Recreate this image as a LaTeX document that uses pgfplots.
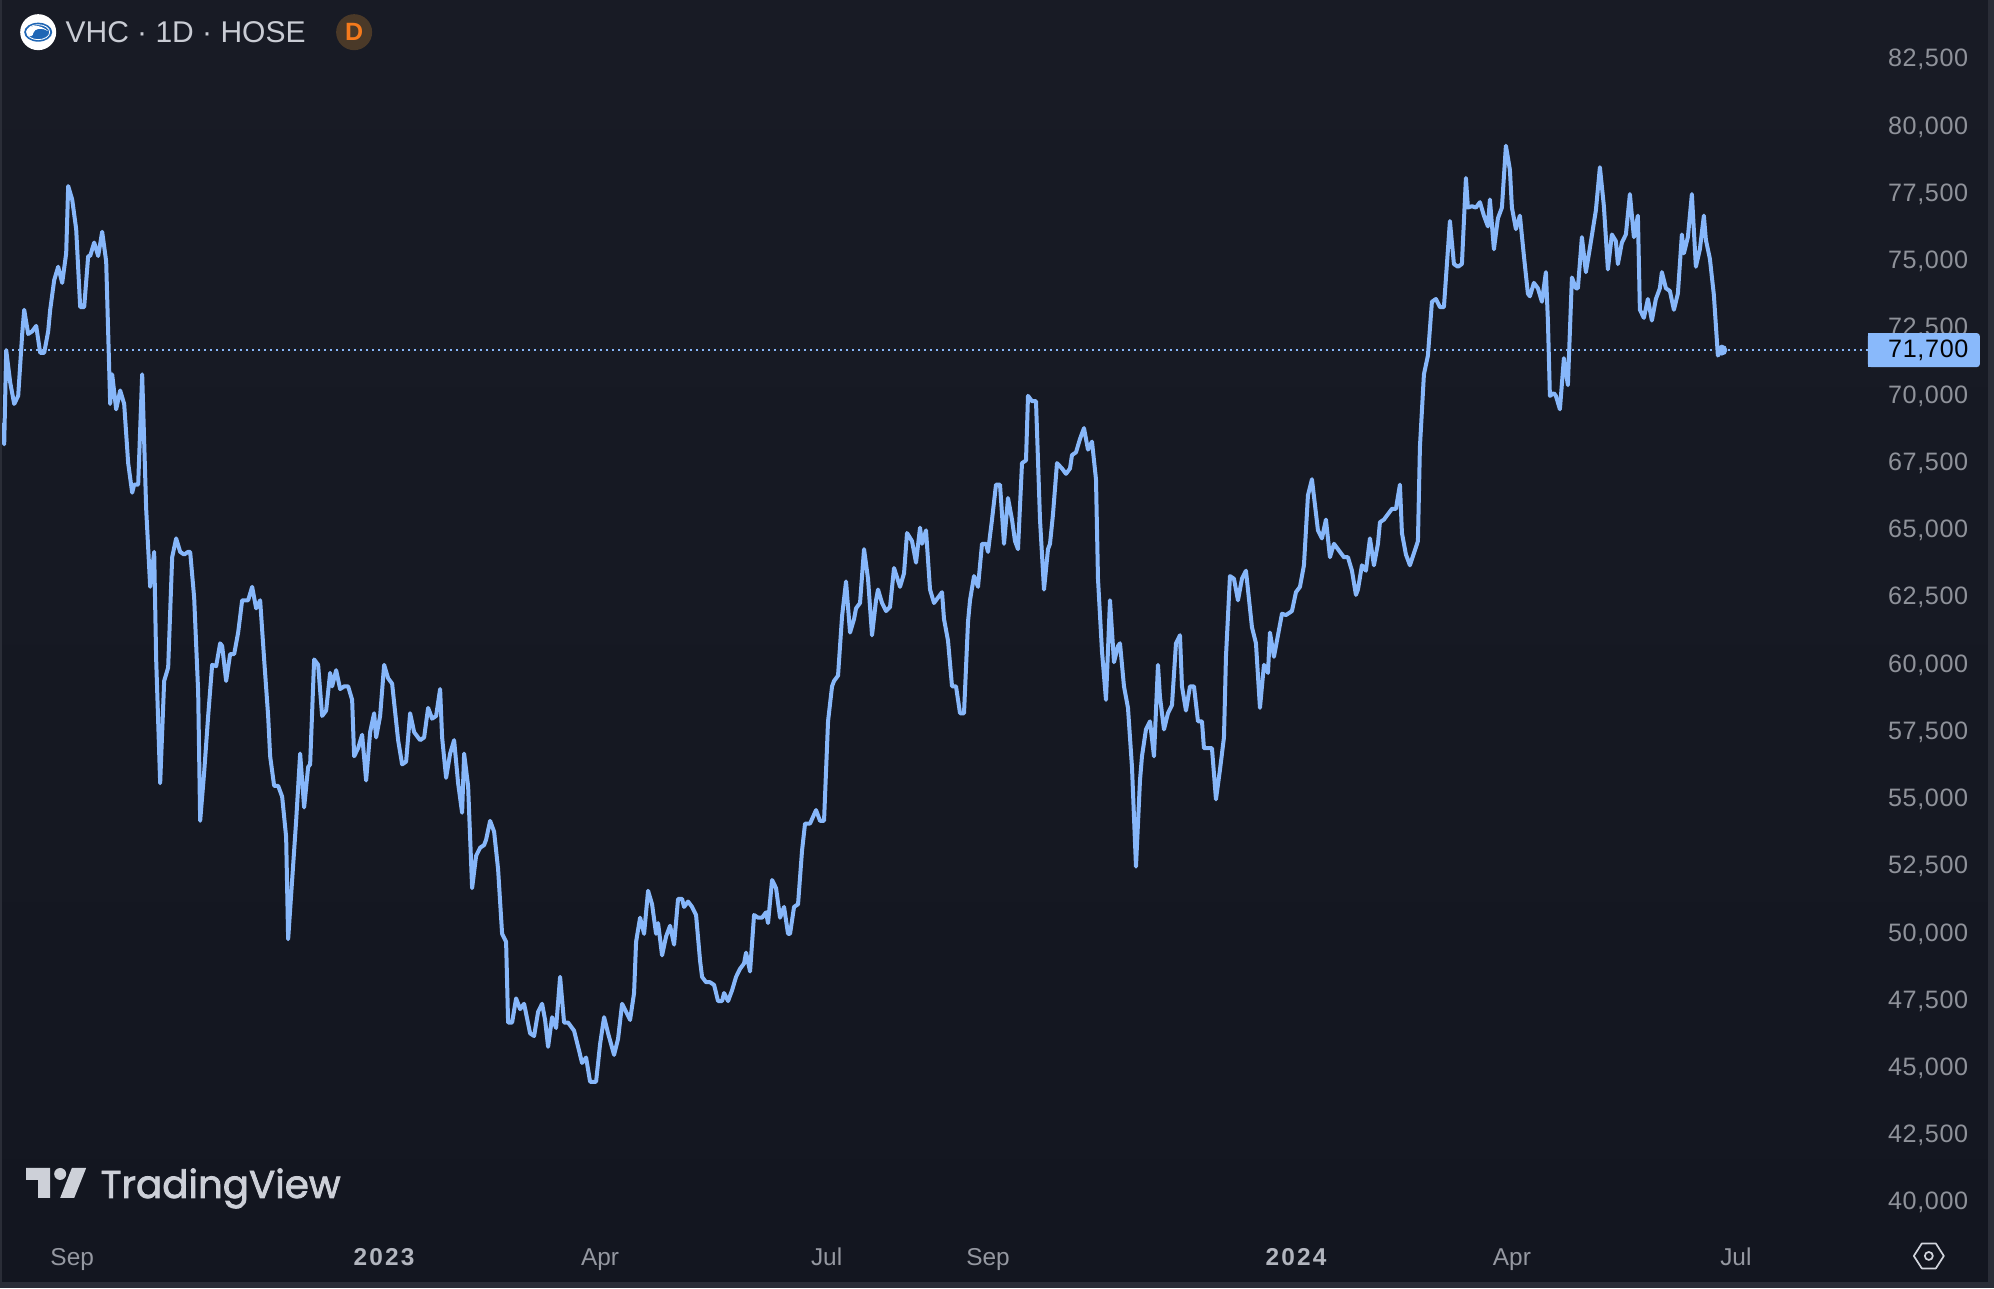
\documentclass[border=0pt]{standalone}
\usepackage{pgfplots}
\usepackage{pgfplotstable}
\usepackage{fontspec}
\pgfplotsset{compat=1.18}
\setmainfont{Liberation Sans}
\newfontfamily\tvfont{Poppins}[FakeBold=2]
\newfontfamily\tickfont{Liberation Sans}[LetterSpace=2.5]
\newfontfamily\yearfont{Liberation Sans}[LetterSpace=9]
\definecolor{bgtop}{HTML}{181B25}
\definecolor{bgbot}{HTML}{131620}
\definecolor{edge}{HTML}{2A2D37}
\definecolor{line}{HTML}{87B7FA}
\definecolor{tag}{HTML}{89B9FB}
\definecolor{ticktxt}{HTML}{8F929A}
\definecolor{xtxt}{HTML}{9598A1}
\definecolor{xbold}{HTML}{B2B5BE}
\definecolor{titletxt}{HTML}{C9CCD4}
\definecolor{logotxt}{HTML}{CDD0D8}
\definecolor{badge}{HTML}{4A3928}
\definecolor{badgetxt}{HTML}{F57A1C}
\definecolor{icon}{HTML}{D1D4DC}
\definecolor{swoosh}{HTML}{1F66B5}
\pgfplotstableread{
x y
3 69000
4 68200
6 71700
10 70500
14 69700
18 70000
22 72300
24 73200
28 72300
32 72400
36 72600
40 71600
44 71600
48 72400
50 73200
54 74300
58 74800
62 74200
66 75300
68 77800
72 77300
76 76200
80 73300
84 73300
88 75200
90 75200
94 75700
98 75200
102 76100
106 75000
110 69700
112 70800
116 69500
120 70200
124 69700
128 67500
132 66400
134 66700
138 66700
142 70800
146 65800
150 62900
154 64200
156 60200
160 55600
164 59400
168 59900
172 64000
176 64700
180 64200
184 64100
188 64200
190 64200
194 62500
198 59000
200 54200
204 56000
208 58100
212 60000
216 59950
220 60800
222 60700
226 59400
230 60400
234 60400
238 61200
242 62400
246 62400
248 62400
252 62900
256 62100
260 62400
264 60200
268 58100
270 56600
274 55500
278 55500
282 55100
286 53600
288 49800
292 52000
296 54200
300 56700
304 54700
308 56200
310 56300
314 60200
318 60000
322 58100
326 58300
330 59700
332 59200
336 59800
340 59100
344 59200
348 59200
352 58700
354 56600
358 56900
362 57400
366 55700
370 57500
374 58200
376 57300
380 58100
384 60000
388 59500
392 59300
398 57200
402 56300
406 56400
410 58200
414 57500
420 57200
424 57300
428 58400
432 58000
436 58100
440 59100
442 57300
446 55800
450 56700
454 57200
458 55600
462 54500
464 56700
468 55500
472 51700
476 52900
480 53200
484 53300
486 53500
490 54200
494 53800
498 52400
502 50000
506 49700
508 46700
512 46700
516 47600
520 47200
524 47400
530 46300
534 46200
538 47100
542 47400
545 46800
548 45800
552 46900
556 46500
560 48400
564 46700
568 46700
572 46500
574 46400
582 45200
586 45400
590 44500
596 44500
600 45900
604 46900
608 46300
614 45500
618 46100
622 47400
626 47100
630 46800
634 47800
636 49700
640 50600
644 50000
648 51600
652 51100
656 50000
658 50400
662 49200
666 49900
670 50300
674 49600
678 51300
682 51300
684 51000
688 51200
692 51000
696 50700
700 49000
702 48400
706 48200
710 48200
714 48100
718 47500
722 47500
724 47800
728 47500
732 47900
736 48400
740 48700
744 48900
746 49300
750 48600
754 50700
758 50600
762 50600
766 50800
768 50400
772 52000
776 51700
780 50600
784 51000
788 50000
790 50000
794 51000
798 51100
802 53100
805 54100
810 54100
816 54600
820 54200
824 54200
828 57900
832 59200
834 59400
838 59600
842 61800
846 63100
850 61200
854 61700
856 62100
860 62300
864 64300
868 63200
872 61100
876 62400
878 62800
882 62300
886 62000
890 62150
894 63600
900 62900
904 63400
907 64900
912 64600
916 63800
920 65100
922 64500
926 65000
930 62800
934 62300
942 62700
944 61700
948 60900
952 59200
956 59200
960 58200
964 58200
968 61600
970 62400
974 63300
978 62900
982 64500
986 64500
988 64200
992 65400
996 66700
1000 66700
1004 64500
1008 66200
1012 65400
1015 64600
1018 64300
1022 67500
1026 67600
1028 70000
1032 69800
1036 69800
1040 65400
1044 62800
1048 64300
1050 64500
1053 65600
1057 67500
1062 67300
1066 67100
1070 67300
1072 67800
1076 67900
1080 68400
1084 68800
1088 68000
1092 68300
1096 66900
1098 63200
1102 60500
1106 58700
1110 62400
1114 60100
1118 60700
1120 60800
1124 59200
1128 58400
1132 56200
1136 52500
1140 55700
1142 56600
1146 57600
1150 57900
1154 56600
1158 60000
1160 58800
1164 57600
1168 58200
1172 58500
1176 60800
1180 61100
1182 59200
1186 58300
1190 59200
1194 59200
1198 57900
1202 57900
1204 56900
1212 56900
1216 55000
1220 56100
1224 57300
1226 60300
1230 63300
1234 63200
1238 62400
1242 63200
1246 63500
1252 61400
1256 60800
1260 58400
1264 60000
1268 59700
1270 61200
1274 60300
1282 61900
1286 61850
1292 62000
1296 62700
1300 62900
1304 63700
1308 66300
1312 66900
1318 65000
1322 64700
1326 65400
1330 64000
1334 64500
1338 64300
1344 64000
1348 64000
1352 63500
1356 62600
1358 62800
1362 63700
1366 63500
1370 64700
1374 63700
1378 64500
1380 65300
1384 65400
1392 65800
1396 65800
1400 66700
1402 64900
1406 64100
1410 63700
1418 64600
1420 68100
1424 70800
1428 71500
1432 73500
1436 73600
1440 73300
1444 73300
1450 76500
1454 74900
1458 74800
1462 74900
1466 78100
1468 77000
1472 77050
1476 77000
1480 77200
1484 76700
1488 76300
1490 77300
1494 75450
1498 76600
1502 77000
1506 79300
1510 78400
1512 77000
1516 76200
1520 76700
1524 75200
1528 73800
1530 73700
1534 74200
1538 74000
1542 73500
1546 74600
1548 72800
1550 70000
1554 70100
1556 70000
1560 69500
1564 71400
1568 70400
1572 74400
1576 74000
1578 74000
1582 75900
1586 74600
1590 75500
1596 76900
1600 78500
1604 77050
1608 74700
1612 76000
1616 75750
1618 74900
1622 75700
1626 76000
1630 77500
1634 75900
1638 76700
1640 73200
1644 72900
1648 73600
1652 72800
1656 73600
1660 74000
1662 74600
1666 74000
1670 73900
1674 73200
1678 73800
1682 76000
1684 75300
1688 75900
1692 77500
1696 74800
1700 75450
1704 76700
1706 75800
1710 75100
1714 73750
1718 71500
1722 71700
}\pricetable
\begin{document}
\begin{tikzpicture}
\begin{axis}[
  scale only axis,
  width=997pt, height=644pt,
  xmin=0, xmax=1994,
  ymin=36835, ymax=84710,
  axis line style={draw=none},
  major tick length=0pt,
  scaled y ticks=false,
  scaled x ticks=false,
  axis background/.style={top color=bgtop,bottom color=bgbot},
  ytick={40000,42500,45000,47500,50000,52500,55000,57500,60000,62500,65000,67500,70000,72500,75000,77500,80000,82500},
  yticklabels={{40,000},{42,500},{45,000},{47,500},{50,000},{52,500},{55,000},{57,500},{60,000},{62,500},{65,000},{67,500},{70,000},{72,500},{75,000},{77,500},{80,000},{82,500}},
  yticklabel pos=right,
  y tick label style={anchor=east,inner sep=0pt,xshift=-12.6pt,yshift=0pt,text=ticktxt,font=\tickfont\fontsize{12.6}{14}\selectfont},
  xtick={72,384,600,826.6,988,1296,1512,1736},
  xticklabels={Sep,{\yearfont\bfseries\textcolor{xbold}{2023}},Apr,Jul,Sep,{\yearfont\bfseries\textcolor{xbold}{2024}},Apr,Jul},
  x tick label style={anchor=base,inner sep=0pt,yshift=11.2pt,text=xtxt,font=\fontsize{12.2}{14}\selectfont},
]
\addplot[line,line width=1pt,dash pattern=on 1pt off 2pt,forget plot] coordinates {(0,71700)(1868,71700)};
\addplot[line,line width=2pt,line join=round,no markers] table[x=x,y=y] {\pricetable};
\addplot[only marks,mark=*,mark size=2.5pt,mark options={draw=line,fill=line}] coordinates {(1722,71700)};
\end{axis}
\begin{scope}[x=0.5pt,y=-0.5pt,yshift=644pt]
  % frame edges
  \fill[edge] (0,0) rectangle (2,1288);
  \fill[edge] (1988,0) rectangle (1994,1288);
  \fill[edge] (0,1282) rectangle (1994,1288);
  % last price tag
  \fill[tag,rounded corners=1.5pt] (1868,333) -- (1980,333) -- (1980,367) -- (1868,367) -- cycle;
  \fill[tag] (1868,333) rectangle (1880,367);
  \node[anchor=east,inner sep=0pt,text=black!90!bgbot,font=\tickfont\fontsize{12.6}{14}\selectfont] at (1969,350) {71,700};
  % symbol logo
  \fill[white] (38,32) circle (18);
  \fill[swoosh] (38,32) ellipse (14 and 9.5);
  \fill[white] (26,31) .. controls (30,24) and (40,24) .. (48,31) .. controls (42,27) and (34,28) .. (33,33) .. controls (33,36) and (30,37) .. (27,35) -- cycle;
  \draw[white,line width=0.4pt] (38,32) ellipse (11.5 and 7.5);
  % title
  \node[anchor=west,inner sep=0pt,text=titletxt,font=\fontsize{15}{18}\selectfont] at (65,32.5) {VHC · 1D · HOSE};
  % interval badge
  \fill[badge] (354,32) circle (18);
  \node[inner sep=0pt,text=badgetxt,font=\fontsize{12.5}{14}\selectfont\bfseries] at (354,32) {D};
  % TradingView logo
  \fill[logotxt] (26,1168) -- (50,1168) -- (50,1198) -- (38,1198) -- (38,1180) -- (26,1180) -- cycle;
  \fill[logotxt] (60,1174) circle (6);
  \fill[logotxt] (71.7,1168) -- (86,1168) -- (74,1198) -- (60,1198) -- cycle;
  \node[anchor=base west,inner sep=0pt,text=logotxt,font=\tvfont\fontsize{19.4}{24}\selectfont] at (100,1198) {TradingView};
  % settings icon
  \draw[icon,line width=0.85pt,line join=round] (1914,1256) -- (1922,1243.5) -- (1936,1243.5) -- (1944,1256) -- (1936,1268.5) -- (1922,1268.5) -- cycle;
  \draw[icon,line width=0.85pt] (1929,1256) circle (4);
\end{scope}
\end{tikzpicture}
\end{document}
